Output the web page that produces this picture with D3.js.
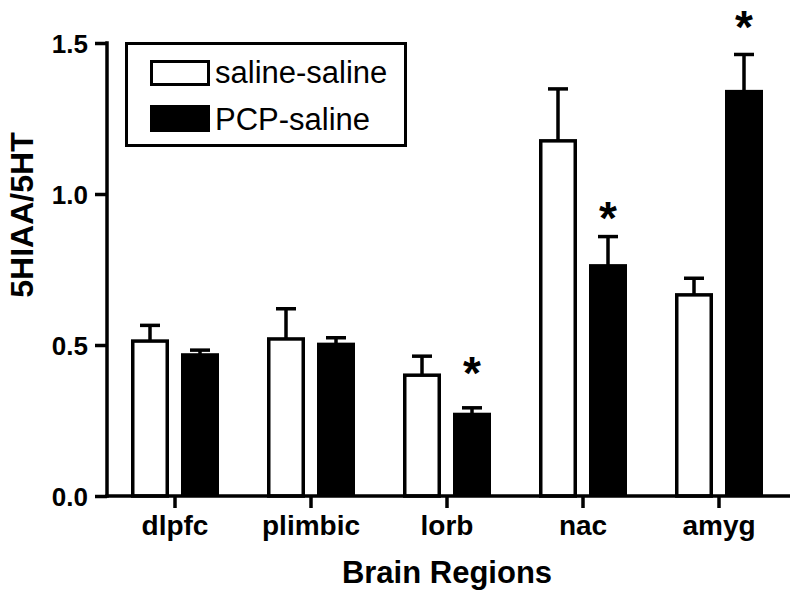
<!DOCTYPE html>
<meta charset="utf-8">
<html>
<head>
  <script src="https://cdnjs.cloudflare.com/ajax/libs/d3/7.8.5/d3.min.js"></script>
  <style>
    body { margin: 0; background: #fff; }
    svg text { font-family: "Liberation Sans", Arial, Helvetica, sans-serif; }
  </style>
</head>
<body>
<div id="chart"></div>
<script>

// data
var regions = ["dlpfc", "plimbic", "lorb", "nac", "amyg"];
var groups = ["saline-saline", "PCP-saline"];
var salineMean = [0.513, 0.52, 0.40, 1.176, 0.666];
var salineErr  = [0.052, 0.10, 0.063, 0.172, 0.055];
var pcpMean    = [0.467, 0.502, 0.27, 0.762, 1.339];
var pcpErr     = [0.016, 0.022, 0.022, 0.097, 0.123];
// where the significance stars sit (in y units), null = no star
var starAt     = [null, null, 0.424, 0.937, 1.57];
var yTicks     = [0, 0.5, 1.0, 1.5];

var width = 800, height = 599;
var lw = 3.5;

var svg = d3.select("#chart").append("svg")
  .attr("width", width)
  .attr("height", height);

var x0 = d3.scaleBand()
  .domain(regions)
  .range([107, 787]);

var x1 = d3.scaleBand()
  .domain(groups)
  .range([24, 112])
  .paddingInner(0.24);

var y = d3.scaleLinear()
  .domain([0, 1.5])
  .range([496, 43]);

var series = [
  {name: groups[0], mean: salineMean, err: salineErr, fill: "#fff"},
  {name: groups[1], mean: pcpMean, err: pcpErr, fill: "#000"}
];

// bars + error bars
series.forEach(function(s){
  var g = svg.append("g");
  regions.forEach(function(r, i){
    var bx = x0(r) + x1(s.name);
    var bw = x1.bandwidth();
    var top = y(s.mean[i]);
    var cx = bx + bw / 2;
    var etop = y(s.mean[i] + s.err[i]);

    g.append("line")
      .attr("x1", cx).attr("x2", cx)
      .attr("y1", top).attr("y2", etop)
      .attr("stroke", "#000").attr("stroke-width", lw);
    g.append("line")
      .attr("x1", cx - 10).attr("x2", cx + 10)
      .attr("y1", etop).attr("y2", etop)
      .attr("stroke", "#000").attr("stroke-width", lw);

    if (s.fill === "#fff") {
      g.append("rect")
        .attr("x", bx + lw / 2)
        .attr("y", top)
        .attr("width", bw - lw)
        .attr("height", y(0) - top)
        .attr("fill", "#fff")
        .attr("stroke", "#000")
        .attr("stroke-width", lw);
    } else {
      g.append("rect")
        .attr("x", bx)
        .attr("y", top - lw / 2)
        .attr("width", bw)
        .attr("height", y(0) - top + lw / 2)
        .attr("fill", "#000");
    }
  });
});

// stars
regions.forEach(function(r, i){
  if (starAt[i] == null) return;
  svg.append("text")
    .attr("x", x0(r) + x1(groups[1]) + x1.bandwidth() / 2)
    .attr("y", y(starAt[i]) + 21)
    .attr("text-anchor", "middle")
    .style("font-size", "46px")
    .style("font-weight", "bold")
    .text("*");
});

// y axis
var yAxis = svg.append("g")
  .attr("transform", "translate(107,0)")
  .call(d3.axisLeft(y).tickValues(yTicks).tickFormat(d3.format(".1f"))
    .tickSize(12).tickSizeOuter(0).tickPadding(7));
yAxis.select(".domain").remove();
yAxis.selectAll("line").attr("stroke-width", lw);
yAxis.selectAll("text")
  .style("font-size", "26px").style("font-weight", "bold")
  .style("font-family", "'Liberation Sans', Arial, sans-serif")
  .attr("dy", "0.36em");
svg.append("line")
  .attr("x1", 107).attr("x2", 107)
  .attr("y1", y(1.5) - lw / 2).attr("y2", y(0) + lw / 2)
  .attr("stroke", "#000").attr("stroke-width", lw);

// x axis
var xAxis = svg.append("g")
  .attr("transform", "translate(0," + y(0) + ")")
  .call(d3.axisBottom(x0).tickSize(12).tickSizeOuter(0).tickPadding(7));
xAxis.select(".domain").remove();
xAxis.selectAll("line").attr("stroke-width", lw);
xAxis.selectAll("text")
  .style("font-size", "28px").style("font-weight", "bold")
  .style("font-family", "'Liberation Sans', Arial, sans-serif");
svg.append("line")
  .attr("x1", 107 - lw / 2).attr("x2", 790)
  .attr("y1", y(0)).attr("y2", y(0))
  .attr("stroke", "#000").attr("stroke-width", lw);

// axis titles
svg.append("text")
  .attr("x", (x0.range()[0] + x0.range()[1]) / 2)
  .attr("y", 583)
  .attr("text-anchor", "middle")
  .style("font-size", "31px").style("font-weight", "bold")
  .text("Brain Regions");

svg.append("text")
  .attr("transform", "translate(33,215) rotate(-90)")
  .attr("text-anchor", "middle")
  .style("font-size", "32px").style("font-weight", "bold")
  .text("5HIAA/5HT");

// legend
var legend = svg.append("g");
legend.append("rect")
  .attr("x", 126.5).attr("y", 43.5)
  .attr("width", 279).attr("height", 102)
  .attr("fill", "none").attr("stroke", "#000").attr("stroke-width", 3);

series.forEach(function(s, i){
  var ly = 60 + i * 45;
  if (s.fill === "#fff") {
    legend.append("rect")
      .attr("x", 151.5).attr("y", ly + 1.5)
      .attr("width", 57).attr("height", 23)
      .attr("fill", "#fff").attr("stroke", "#000").attr("stroke-width", 3);
  } else {
    legend.append("rect")
      .attr("x", 150).attr("y", ly)
      .attr("width", 60).attr("height", 27)
      .attr("fill", "#000");
  }
  legend.append("text")
    .attr("x", 215).attr("y", ly + 23 + i * 2)
    .style("font-size", "31px")
    .text(s.name);
});

</script>
</body>
</html>
